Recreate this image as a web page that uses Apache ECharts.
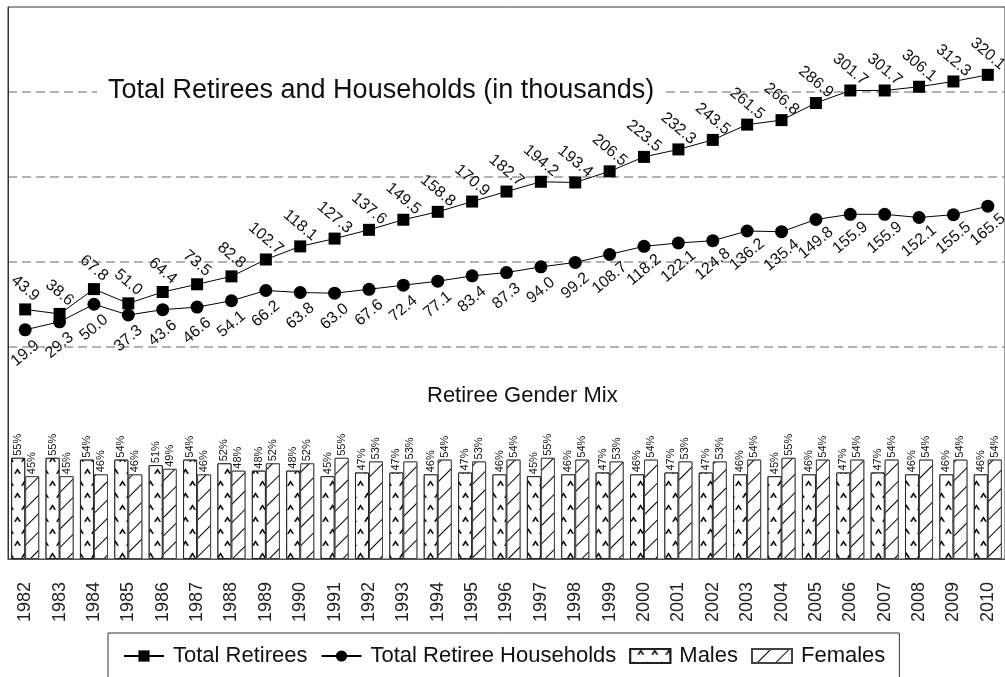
<!DOCTYPE html>
<html>
<head>
<meta charset="utf-8">
<script src="https://cdn.jsdelivr.net/npm/echarts@6/dist/echarts.min.js"></script>
<style>
  html, body { margin: 0; padding: 0; background: #fff; }
  #chart { width: 1005px; height: 677px; }
</style>
</head>
<body>
<div id="chart"></div>
<script>
// Retiree counts and gender mix, 1982-2010
const years = ['1982','1983','1984','1985','1986','1987','1988','1989','1990','1991',
  '1992','1993','1994','1995','1996','1997','1998','1999','2000','2001',
  '2002','2003','2004','2005','2006','2007','2008','2009','2010'];

// thousands
const totalRetirees = [43.9, 38.6, 67.8, 51.0, 64.4, 73.5, 82.8, 102.7, 118.1, 127.3,
  137.6, 149.5, 158.8, 170.9, 182.7, 194.2, 193.4, 206.5, 223.5, 232.3,
  243.5, 261.5, 266.8, 286.9, 301.7, 301.7, 306.1, 312.3, 320.1];

const totalHouseholds = [19.9, 29.3, 50.0, 37.3, 43.6, 46.6, 54.1, 66.2, 63.8, 63.0,
  67.6, 72.4, 77.1, 83.4, 87.3, 94.0, 99.2, 108.7, 118.2, 122.1,
  124.8, 136.2, 135.4, 149.8, 155.9, 155.9, 152.1, 155.5, 165.5];

// percent of retirees
const malesPct = [55, 55, 54, 54, 51, 54, 52, 48, 48, 45,
  47, 47, 46, 47, 46, 45, 46, 47, 46, 47,
  47, 46, 45, 46, 47, 47, 46, 46, 46];

const femalesPct = [45, 45, 46, 46, 49, 46, 48, 52, 52, 55,
  53, 53, 54, 53, 54, 55, 54, 53, 54, 53,
  53, 54, 55, 54, 54, 54, 54, 54, 54];

const gridValues = [0, 100, 200, 300];

const FONT = '"Liberation Sans", Arial, Helvetica, sans-serif';
const chart = echarts.init(document.getElementById('chart'), null, { renderer: 'canvas' });

const dashed = { color: '#9a9a9a', type: [9, 5], width: 1.5 };

chart.setOption({
  animation: false,
  backgroundColor: '#fff',
  textStyle: { fontFamily: FONT, color: '#111' },
  title: [
    {
      text: 'Total Retirees and Households (in thousands)',
      left: 97, top: 75,
      padding: [0, 11],
      backgroundColor: '#fff',
      textStyle: { fontFamily: FONT, fontSize: 27, fontWeight: 'normal', color: '#111', lineHeight: 32 }
    },
    {
      text: 'Retiree Gender Mix',
      left: 427, top: 385,
      padding: 0,
      textStyle: { fontFamily: FONT, fontSize: 22, fontWeight: 'normal', color: '#111' }
    }
  ],
  legend: {
    left: 108, top: 633,
    padding: [12, 14, 24, 15],
    borderColor: '#333', borderWidth: 1,
    itemGap: 13, itemWidth: 40, itemHeight: 14,
    textStyle: { fontFamily: FONT, fontSize: 22, color: '#111', padding: [0, 0, 0, 4] },
    data: [
      { name: 'Total Retirees' },
      { name: 'Total Retiree Households' },
      { name: 'Males', icon: 'rect' },
      { name: 'Females', icon: 'rect' }
    ]
  },
  grid: {
    left: 8, top: 7, width: 1002, height: 552,
    show: true, borderColor: '#333', borderWidth: 1
  },
  xAxis: {
    type: 'category',
    data: years,
    boundaryGap: true,
    axisLine: { show: true, onZero: false, lineStyle: { color: '#555' } },
    axisTick: { show: false },
    axisLabel: { rotate: 90, fontSize: 18, color: '#222', margin: 23, fontFamily: FONT }
  },
  yAxis: [
    {
      type: 'value', min: -250, max: 400,
      axisLine: { show: true, lineStyle: { color: '#333' } },
      axisTick: { show: false }, axisLabel: { show: false }, splitLine: { show: false }
    },
    {
      type: 'value', min: 0, max: 300, show: false, splitLine: { show: false }
    }
  ],
  series: [
    {
      name: 'Total Retirees',
      type: 'line',
      data: totalRetirees,
      symbol: 'rect', symbolSize: 12,
      itemStyle: { color: '#000' },
      lineStyle: { color: '#000', width: 1 },
      z: 4,
      label: {
        show: true, position: 'top', distance: 15, rotate: -40,
        align: 'center', verticalAlign: 'middle',
        fontSize: 16, color: '#111', fontFamily: FONT,
        formatter: p => p.value.toFixed(1)
      },
      markLine: {
        silent: true, symbol: 'none', z: 0,
        label: { show: false },
        lineStyle: dashed,
        data: gridValues.map(v => ({ yAxis: v }))
      }
    },
    {
      name: 'Total Retiree Households',
      type: 'line',
      data: totalHouseholds,
      symbol: 'circle', symbolSize: 13,
      itemStyle: { color: '#000' },
      lineStyle: { color: '#000', width: 1 },
      z: 4,
      label: {
        show: true, position: 'bottom', distance: 17, rotate: 40,
        align: 'center', verticalAlign: 'middle',
        fontSize: 16, color: '#111', fontFamily: FONT,
        formatter: p => p.value.toFixed(1)
      }
    },
    {
      name: 'Males',
      type: 'bar',
      yAxisIndex: 1,
      data: malesPct,
      barWidth: 14, barGap: '0%',
      z: 3,
      itemStyle: {
        color: '#fff', borderColor: '#222', borderWidth: 1,
        decal: {
          symbol: 'path://M0,8 L5,0 L10,8 L7.2,8 L5,4 L2.8,8 Z',
          symbolSize: 1,
          color: '#000',
          backgroundColor: '#fff',
          dashArrayX: [[7, 7], [0, 7, 7, 0]],
          dashArrayY: [6, 6]
        }
      },
      label: {
        show: true, position: 'top', distance: 2, rotate: 90,
        align: 'left', verticalAlign: 'middle',
        fontSize: 11, color: '#111', fontFamily: FONT,
        formatter: '{c}%'
      }
    },
    {
      name: 'Females',
      type: 'bar',
      yAxisIndex: 1,
      data: femalesPct,
      barWidth: 14, barGap: '0%',
      z: 3,
      itemStyle: {
        color: '#fff', borderColor: '#444', borderWidth: 1,
        decal: {
          symbol: 'rect',
          symbolSize: 1,
          color: '#000',
          backgroundColor: '#fff',
          dashArrayX: [1, 0],
          dashArrayY: [1, 12],
          rotation: -Math.PI / 4
        }
      },
      label: {
        show: true, position: 'top', distance: 2, rotate: 90,
        align: 'left', verticalAlign: 'middle',
        fontSize: 11, color: '#111', fontFamily: FONT,
        formatter: '{c}%'
      }
    }
  ]
});
</script>
</body>
</html>
